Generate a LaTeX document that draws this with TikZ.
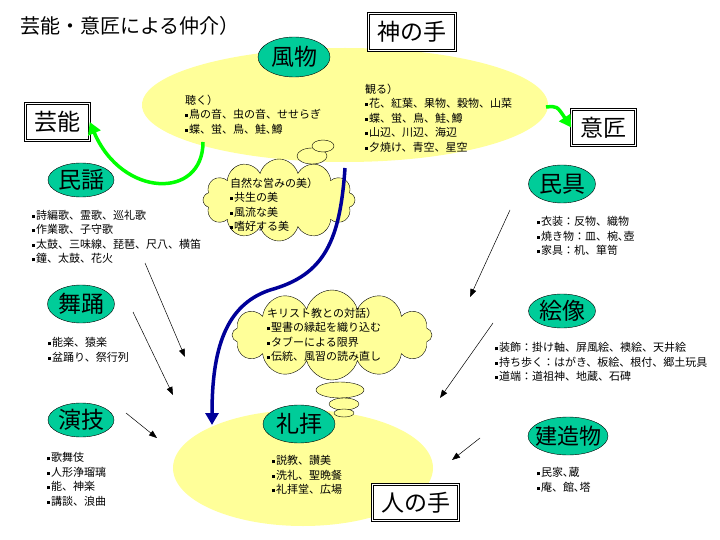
\documentclass[tikz,border=0pt]{standalone}
\usepackage{fontspec}
\setmainfont{Noto Sans CJK JP}
\usetikzlibrary{shapes.geometric,shapes.symbols,arrows.meta}
\definecolor{sea}{RGB}{0,204,153}
\definecolor{cream}{RGB}{255,255,153}
\definecolor{navy}{RGB}{0,0,153}
\definecolor{lime}{RGB}{0,255,0}
\newcommand{\bul}{\rule[1.5pt]{3pt}{3pt}\hspace{1pt}}

\begin{document}
\begin{tikzpicture}[x=1pt, y=-1pt,
    topic/.style = {draw, ellipse, fill=sea, inner sep=0pt, font=\fontsize{23}{23}\selectfont},
    hand/.style = {draw, double, double distance=1.2pt, line width=0.5pt, fill=white, inner sep=0pt, font=\fontsize{23}{23}\selectfont},
    lst/.style = {anchor=north west, align=left, inner sep=0pt, font=\fontsize{11}{14.5}\selectfont},
    puff/.style = {draw, fill=cream, cloud, cloud puffs=12, cloud ignores aspect, inner sep=0pt},
    bubble/.style = {draw, fill=cream, ellipse, inner sep=0pt},
    link/.style = {line width=0.5pt, -{Triangle[length=8pt,width=6pt]}},
    fat/.style = {line width=3.5pt, -{Triangle[length=12pt,width=13pt]}}]
    \useasboundingbox (0,0) rectangle (720,540);
    % yellow fields
    \node[ellipse, fill=cream, minimum width=406pt, minimum height=114pt] (field1) at (345,105) {};
    \node[ellipse, fill=cream, minimum width=260pt, minimum height=116pt] (field2) at (303,468) {};
    \node[anchor=west, inner sep=0pt, font=\fontsize{20}{20}\selectfont] (title) at (20,26) {芸能・意匠による仲介）};
    % hands
    \node[hand, minimum width=87pt, minimum height=37pt] (kami) at (412,32) {神の手};
    \node[hand, minimum width=64pt, minimum height=37pt] (geino) at (57.5,122) {芸能};
    \node[hand, minimum width=64pt, minimum height=36pt] (isho) at (603.5,127.5) {意匠};
    \node[hand, minimum width=86pt, minimum height=36pt] (hito) at (415.5,502.5) {人の手};
    % topics
    \node[topic, minimum width=72pt, minimum height=40pt] (fubutsu) at (294,57) {風物};
    \node[topic, minimum width=66pt, minimum height=34pt] (minyo) at (81,180) {民謡};
    \node[topic, minimum width=67pt, minimum height=38pt] (buyo) at (81,304) {舞踊};
    \node[topic, minimum width=66pt, minimum height=34pt] (engi) at (81,420) {演技};
    \node[topic, minimum width=67pt, minimum height=38pt] (mingu) at (562,184) {民具};
    \node[topic, minimum width=67pt, minimum height=34pt] (ezo) at (562,311) {絵像};
    \node[topic, minimum width=80pt, minimum height=38pt, inner xsep=-8pt, font=\fontsize{22}{22}\selectfont] (kenzo) at (568,436) {建造物};
    \node[topic, minimum width=72pt, minimum height=38pt] (reihai) at (299,424) {礼拝};
    % clouds
    \node[puff, minimum width=152pt, minimum height=82pt] (cloud1) at (279,200) {};
    \node[bubble, minimum width=30pt, minimum height=16pt] (bub1) at (312,156) {};
    \node[bubble, minimum width=22pt, minimum height=12pt] (bub2) at (323,146) {};
    \node[puff, minimum width=200pt, minimum height=90pt] (cloud2) at (332,335) {};
    \node[bubble, minimum width=48pt, minimum height=16pt] (bub3) at (340,390) {};
    \node[bubble, minimum width=30pt, minimum height=12pt] (bub4) at (344,404) {};
    \node[bubble, minimum width=20pt, minimum height=8pt] (bub5) at (344,413) {};
    % lists
    \node[lst] (kiku) at (185,94.5) {聴く）\\\bul 鳥の音、虫の音、せせらぎ\\\bul 蝶、蛍、鳥、鮭､鱒};
    \node[lst] (miru) at (365,83.5) {観る）\\\bul 花、紅葉、果物、穀物、山菜\\\bul 蝶、蛍、鳥、鮭､鱒\\\bul 山辺、川辺、海辺\\\bul 夕焼け、青空、星空};
    \node[lst] (minyolist) at (32,210) {\bul 詩編歌、霊歌、巡礼歌\\\bul 作業歌、子守歌\\\bul 太鼓、三味線、琵琶、尺八、横笛\\\bul 鐘、太鼓、花火};
    \node[lst] (shizen) at (230,177.5) {自然な営みの美）\\\bul 共生の美\\\bul 風流な美\\\bul 嗜好する美};
    \node[lst] (mingulist) at (537,216.5) {\bul 衣装：反物、織物\\\bul 焼き物：皿、椀､壺\\\bul 家具：机、箪笥};
    \node[lst] (kirisuto) at (267,307.5) {キリスト教との対話）\\\bul 聖書の縁起を織り込む\\\bul タブーによる限界\\\bul 伝統、風習の読み直し};
    \node[lst] (buyolist) at (48,337.5) {\bul 能楽、猿楽\\\bul 盆踊り、祭行列};
    \node[lst] (ezolist) at (495,342.5) {\bul 装飾：掛け軸、屏風絵、襖絵、天井絵\\\bul 持ち歩く：はがき、板絵、根付、郷土玩具\\\bul 道端：道祖神、地蔵、石碑};
    \node[lst] (engilist) at (47,452.5) {\bul 歌舞伎\\\bul 人形浄瑠璃\\\bul 能、神楽\\\bul 講談、浪曲};
    \node[lst] (reihailist) at (272,455.5) {\bul 説教、讃美\\\bul 洗礼、聖晩餐\\\bul 礼拝堂、広場};
    \node[lst] (kenzolist) at (537,467.5) {\bul 民家､蔵\\\bul 庵、館､塔};
    % arrow ends
    \coordinate (g1) at (203,142);
    \coordinate (g2) at (546,107);
    \coordinate (n1) at (345,168);
    \coordinate (n2) at (270,290);
    \coordinate (n3) at (212,425);
    \coordinate (a1) at (145,263);  \coordinate (b1) at (185,357);
    \coordinate (a2) at (133,312);  \coordinate (b2) at (173,395);
    \coordinate (a3) at (126,413);  \coordinate (b3) at (157,438);
    \coordinate (a4) at (510,210);  \coordinate (b4) at (470,297);
    \coordinate (a5) at (493,323);  \coordinate (b5) at (440,398);
    \coordinate (a6) at (480,438);  \coordinate (b6) at (452,460);
    % arrows
    \draw[fat, lime] (g1) .. controls (203,200) and (122,198) .. (geino.east);
    \draw[fat, lime] (g2) .. controls (557,106) .. (isho.west);
    \draw[fat, navy] (n1) .. controls (340,240) and (325,275) .. (n2) .. controls (225,305) and (212,350) .. (n3);
    \draw[link] (a1) -- (b1);
    \draw[link] (a2) -- (b2);
    \draw[link] (a3) -- (b3);
    \draw[link] (a4) -- (b4);
    \draw[link] (a5) -- (b5);
    \draw[link] (a6) -- (b6);
\end{tikzpicture}
\end{document}
